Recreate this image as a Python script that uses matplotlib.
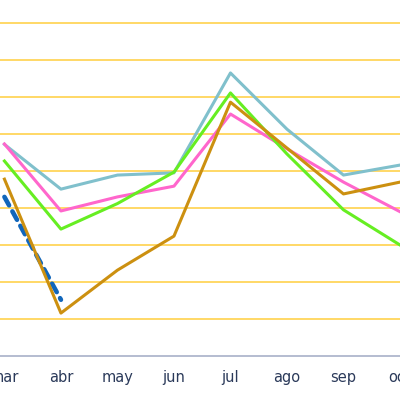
import matplotlib
matplotlib.use("Agg")
import matplotlib.pyplot as plt

months = ["mar", "abr", "may", "jun", "jul", "ago", "sep", "oct"]

# values (grid step = 1)
teal = [5.72, 4.51, 4.89, 4.95, 7.65, 6.13, 4.89, 5.16]
green = [5.27, 3.43, 4.12, 4.97, 7.11, 5.46, 3.95, 3.00]
pink = [5.73, 3.92, 4.30, 4.59, 6.54, 5.60, 4.70, 3.90]
gold = [4.78, 1.16, 2.32, 3.24, 6.86, 5.62, 4.38, 4.70]
blue = [4.30, 1.52]

fig = plt.figure(figsize=(4.0, 3.95), dpi=100)
ax = fig.add_axes([0, 39 / 395, 1, 356 / 395])

x = list(range(len(months)))
ax.plot(x, teal, color="#80c0cc", lw=2.2, zorder=3)
ax.plot(x, pink, color="#ff66cc", lw=2.2, zorder=4)
ax.plot(x, green, color="#66ee22", lw=2.2, zorder=4)
ax.plot(x[:len(blue)], blue, color="#1166bb", lw=3.3, ls=(0, (2.1, 1.5)),
        dash_capstyle="round", zorder=5)
ax.plot(x, gold, color="#cc9010", lw=2.2, zorder=6)

step = 57.4
ax.set_xlim(-4.5 / step, 395.5 / step)
ax.set_ylim(0, 356 / 37)
ax.set_yticks(range(1, 10))
ax.grid(axis="y", color="#ffd24d", lw=1.2)
ax.set_axisbelow(True)

ax.set_xticks(x)
ax.set_xticklabels(months)
ax.tick_params(axis="x", length=0, pad=10, labelsize=10.5, labelcolor="#2b3a5a")
ax.tick_params(axis="y", left=False, labelleft=False)

for s in ["top", "right", "left"]:
    ax.spines[s].set_visible(False)
ax.spines["bottom"].set_color("#a8b0c8")
ax.spines["bottom"].set_linewidth(1.2)

fig.savefig("out.png", dpi=100)
